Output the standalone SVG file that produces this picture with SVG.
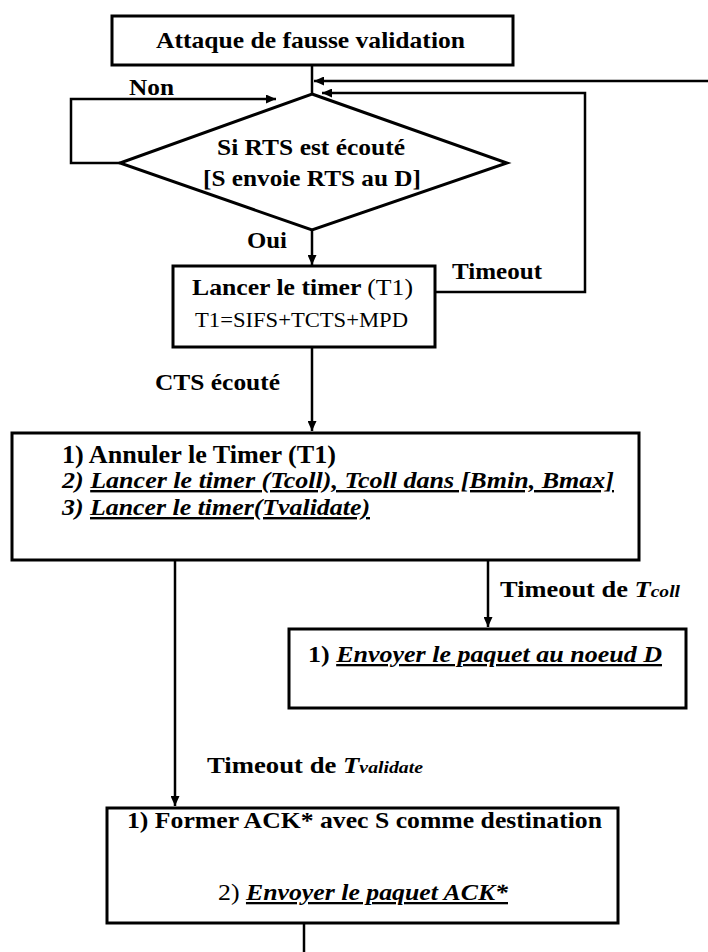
<svg xmlns="http://www.w3.org/2000/svg" width="708" height="952" viewBox="0 0 708 952">
  <defs>
    <marker id="arrow" markerUnits="userSpaceOnUse" markerWidth="10" markerHeight="9" refX="10" refY="4.5" orient="auto">
      <path d="M0,0 L10,4.5 L0,9 z" fill="#000"/>
    </marker>
    <style>
      text { font-family: 'Liberation Serif', 'Times New Roman', Times, serif; font-weight: 700; fill: #000; }
      .box { fill: #fff; stroke: #000; stroke-width: 3; }
      .wire { fill: none; stroke: #000; stroke-width: 2.5; }
      .arr { marker-end: url(#arrow); }
      .reg { font-weight: 400; }
      .it { font-style: italic; }
      .ul { text-decoration: underline; }
      .sm { font-size: 17px; font-style: italic; }
    </style>
  </defs>
  <rect width="708" height="952" fill="#fff"/>

  <!-- connectors -->
  <g id="connectors">
    <path class="wire" d="M312,65 V94"/>
    <path class="wire arr" d="M708,81 H314"/>
    <path class="wire arr" d="M435,292 H585 V93 H322"/>
    <path class="wire arr" d="M120,163 H71 V99 H276"/>
    <path class="wire arr" d="M312,230 V265"/>
    <path class="wire arr" d="M312,347 V431"/>
    <path class="wire arr" d="M488,560 V627"/>
    <path class="wire arr" d="M175,560 V806"/>
    <path class="wire" d="M304,923 V952"/>
  </g>

  <g font-family="'Liberation Serif', 'Times New Roman', serif">
  <!-- connector labels -->
  <g id="labels">
    <text x="129" y="95" font-size="23" textLength="45" lengthAdjust="spacingAndGlyphs">Non</text>
    <text x="247" y="248" font-size="23" textLength="40" lengthAdjust="spacingAndGlyphs">Oui</text>
    <text x="452" y="279" font-size="23" textLength="90" lengthAdjust="spacingAndGlyphs">Timeout</text>
    <text x="155" y="390" font-size="23" textLength="125" lengthAdjust="spacingAndGlyphs">CTS écouté</text>
    <text x="500" y="597" font-size="23" textLength="180" lengthAdjust="spacingAndGlyphs">Timeout de <tspan class="it">T</tspan><tspan class="sm">coll</tspan></text>
    <text x="207" y="773" font-size="23" textLength="216" lengthAdjust="spacingAndGlyphs">Timeout de <tspan class="it">T</tspan><tspan class="sm">validate</tspan></text>
  </g>

  <!-- start -->
  <g id="start">
    <rect class="box" x="112" y="16" width="401" height="49"/>
    <text x="156" y="48" font-size="24" textLength="309" lengthAdjust="spacingAndGlyphs">Attaque de fausse validation</text>
  </g>

  <!-- decision -->
  <g id="rts-check">
    <polygon class="box" points="312,94 507,163 312,230 120,163"/>
    <text x="217" y="155" font-size="24" textLength="188" lengthAdjust="spacingAndGlyphs">Si RTS est écouté</text>
    <text x="203" y="186" font-size="24" textLength="218" lengthAdjust="spacingAndGlyphs">[S envoie RTS au D]</text>
  </g>

  <!-- timer T1 -->
  <g id="timer-t1">
    <rect class="box" x="173" y="266" width="262" height="81"/>
    <text x="192" y="295" font-size="24" textLength="221" lengthAdjust="spacingAndGlyphs">Lancer le timer <tspan class="reg">(T1)</tspan></text>
    <text class="reg" x="195" y="327" font-size="20" textLength="213" lengthAdjust="spacingAndGlyphs">T1=SIFS+TCTS+MPD</text>
  </g>

  <!-- CTS heard -->
  <g id="cts-actions">
    <rect class="box" x="12" y="433" width="627" height="127"/>
    <text x="62" y="463" font-size="25" textLength="274" lengthAdjust="spacingAndGlyphs">1)  Annuler le Timer (T1)</text>
    <text class="it" x="62" y="488" font-size="24" textLength="552" lengthAdjust="spacingAndGlyphs">2) <tspan class="ul">Lancer le timer (Tcoll), Tcoll dans [Bmin, Bmax]</tspan></text>
    <text class="it" x="62" y="515" font-size="24" textLength="308" lengthAdjust="spacingAndGlyphs">3) <tspan class="ul">Lancer le timer(Tvalidate)</tspan></text>
  </g>

  <!-- Tcoll expiry -->
  <g id="send-packet">
    <rect class="box" x="289" y="629" width="397" height="79"/>
    <text x="308" y="662" font-size="23" textLength="354" lengthAdjust="spacingAndGlyphs">1) <tspan class="it ul">Envoyer le paquet au noeud D</tspan></text>
  </g>

  <!-- Tvalidate expiry -->
  <g id="send-ack">
    <rect class="box" x="107" y="808" width="511" height="115"/>
    <text x="127" y="828" font-size="23" textLength="475" lengthAdjust="spacingAndGlyphs">1) Former ACK* avec S comme destination</text>
    <text x="218" y="900" font-size="23" textLength="290" lengthAdjust="spacingAndGlyphs"><tspan class="reg">2) </tspan><tspan class="it ul">Envoyer le paquet ACK*</tspan></text>
  </g>
  </g>
</svg>
